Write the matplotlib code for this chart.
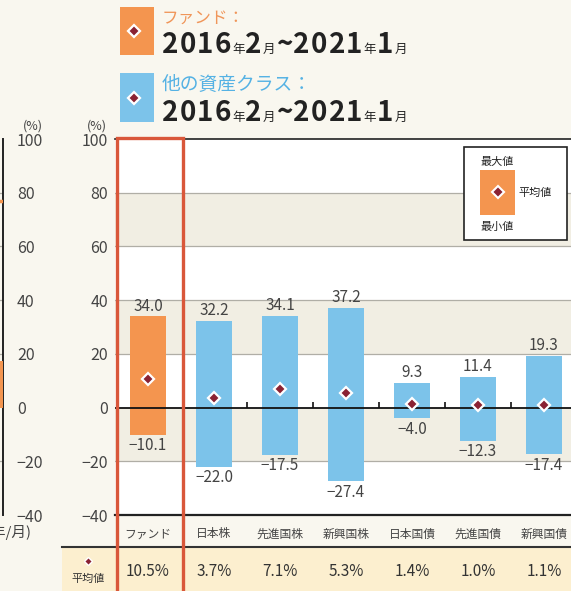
import matplotlib
matplotlib.use("Agg")
import matplotlib.pyplot as plt
from matplotlib.lines import Line2D
from matplotlib.patches import Rectangle
import matplotlib.transforms as mtransforms

plt.rcParams['font.family'] = ['Noto Sans CJK JP', 'DejaVu Sans']

# ---- data ----
categories = ['ファンド', '日本株', '先進国株', '新興国株', '日本国債', '先進国債', '新興国債']
max_vals = [34.0, 32.2, 34.1, 37.2, 9.3, 11.4, 19.3]
min_vals = [-10.1, -22.0, -17.5, -27.4, -4.0, -12.3, -17.4]
avg_vals = [10.5, 3.7, 7.1, 5.3, 1.4, 1.0, 1.1]
yticks = [100, 80, 60, 40, 20, 0, -20, -40]
period_label = ['2016', '年', '2', '月', '~', '2021', '年', '1', '月']
left_bar = [0.0, 17.5]
left_mark = 77.0

W, H = 571, 591
BG = '#f9f7ef'
ORANGE = '#f4954f'
BLUE = '#7cc3ea'
RED = '#d9573a'
MAROON = '#8a2233'
BAND = '#f1eee3'
TXT = '#444444'

fig = plt.figure(figsize=(W / 100, H / 100), dpi=100)
fig.patch.set_facecolor(BG)


def fx(x):
    return x / W


def fy(y):
    return 1 - y / H


# ---- main axes ----
ax_l, ax_r, ax_t, ax_b = 115, 643, 139, 515
ax = fig.add_axes([fx(ax_l), fy(ax_b), (ax_r - ax_l) / W, (ax_b - ax_t) / H])
ax.set_facecolor('white')
ax.set_xlim(-0.5, 7.5)
ax.set_ylim(-40, 100)
for lo in (60, 20, -20):
    ax.axhspan(lo, lo + 20, color=BAND, zorder=0, lw=0)
for g in (80, 60, 40, 20, -20):
    ax.axhline(g, color='#b0aea6', lw=0.9, zorder=1)
ax.axhline(0, color='#111111', lw=1.3, zorder=4)
ax.vlines([i + 0.5 for i in range(1, 7)], 0, 2.0, color='#111111', lw=1.2, zorder=4)

n = len(categories)
xs = list(range(n))
colors = [ORANGE] + [BLUE] * (n - 1)
heights = [mx - mn for mx, mn in zip(max_vals, min_vals)]
ax.bar(xs, heights, bottom=min_vals, width=0.54, color=colors, zorder=3)
ax.plot(xs, avg_vals, ls='none', marker='D', ms=6.2, mfc=MAROON, mec='white', mew=1.6, zorder=5)
for x, mx, mn in zip(xs, max_vals, min_vals):
    ax.text(x, mx + 0.6, f'{mx:.1f}', ha='center', va='bottom', fontsize=11, color=TXT, zorder=6)
    ax.text(x, mn - 0.9, f'{mn:.1f}'.replace('-', '−'), ha='center', va='top', fontsize=11, color=TXT, zorder=6)

ax.set_xticks([])
ax.set_yticks(yticks)
ax.set_yticklabels([str(v).replace('-', '−') for v in yticks], fontsize=11.5, color=TXT)
ax.tick_params(axis='y', length=0, pad=5)
ax.spines['left'].set_visible(False)
ax.spines['right'].set_visible(False)
ax.spines['top'].set_color('#222222')
ax.spines['top'].set_linewidth(1.2)
ax.spines['bottom'].set_color('#222222')
ax.spines['bottom'].set_linewidth(1.6)

# ---- left (cropped) axes ----
axL = fig.add_axes([fx(-57), fy(ax_b), 60 / W, (ax_b - ax_t) / H])
axL.set_facecolor(BG)
axL.set_xlim(0, 1)
axL.set_ylim(-40, 100)
for g in (80, 60, 40, 20, -20):
    axL.axhline(g, color='#b0aea6', lw=0.9, zorder=1)
axL.bar([0.85], [left_bar[1] - left_bar[0]], bottom=[left_bar[0]], width=0.3, color=ORANGE, zorder=3)
axL.plot([0.9, 1.0], [left_mark, left_mark], color=ORANGE, lw=2.5, zorder=3)
axL.set_xticks([])
axL.yaxis.tick_right()
axL.set_yticks(yticks)
axL.set_yticklabels([str(v).replace('-', '−') for v in yticks], fontsize=11.5, color=TXT)
axL.tick_params(axis='y', length=0, pad=10)
for s in ('left', 'top', 'bottom'):
    axL.spines[s].set_visible(False)
axL.spines['right'].set_color('#222222')
axL.spines['right'].set_linewidth(1.4)

fig.text(fx(32), fy(533), '(年/月)', ha='right', va='center', fontsize=10.5, color=TXT)
fig.text(fx(33), fy(126), '(%)', ha='center', va='center', fontsize=9, color=TXT)
fig.text(fx(97), fy(126), '(%)', ha='center', va='center', fontsize=9, color=TXT)

# ---- category labels and table ----
bt = mtransforms.blended_transform_factory(ax.transData, fig.transFigure)
for x, c in zip(xs, categories):
    fig.text(0, 0, c, transform=bt, ha='center', va='center', fontsize=8.5, color=TXT).set_position((x, fy(534)))

fig.patches.append(Rectangle((fx(62), 0), 1, fy(548), transform=fig.transFigure,
                             facecolor='#fcefcf', edgecolor='none', zorder=0))
fig.add_artist(Line2D([fx(62), 1], [fy(547), fy(547)], transform=fig.transFigure, color='#333333', lw=1.5))
for x, a in zip(xs, avg_vals):
    fig.text(0, 0, f'{a:.1f}%', transform=bt, ha='center', va='center', fontsize=11, color='#333333').set_position((x, fy(572)))
fig.add_artist(Line2D([fx(88)], [fy(561)], transform=fig.transFigure, ls='none', marker='D',
                      ms=4.5, mfc=MAROON, mec='white', mew=1))
fig.text(fx(88), fy(579), '平均値', ha='center', va='center', fontsize=8, color='#333333')

# ---- red outline around fund column ----
rl, rr, rt = 116.5, 182.5, 138
fig.add_artist(Line2D([fx(rl), fx(rl), fx(rr), fx(rr)], [fy(600), fy(rt), fy(rt), fy(600)],
                      transform=fig.transFigure, color=RED, lw=2.4, solid_joinstyle='miter', zorder=10))

# ---- legend box ----
fig.patches.append(Rectangle((fx(464), fy(240)), 103 / W, 93 / H, transform=fig.transFigure,
                             facecolor='white', edgecolor='#222222', lw=1.2, zorder=5))
fig.patches.append(Rectangle((fx(480), fy(215)), 35 / W, 45 / H, transform=fig.transFigure,
                             facecolor=ORANGE, edgecolor='none', zorder=6))
fig.add_artist(Line2D([fx(497.5)], [fy(192)], transform=fig.transFigure, ls='none', marker='D',
                      ms=6, mfc=MAROON, mec='white', mew=1.5, zorder=7))
fig.text(fx(497), fy(162), '最大値', ha='center', va='center', fontsize=8, color='#222222', zorder=8)
fig.text(fx(497), fy(227), '最小値', ha='center', va='center', fontsize=8, color='#222222', zorder=8)
fig.text(fx(518), fy(193), '平均値', ha='left', va='center', fontsize=8, color='#222222', zorder=8)

# ---- header ----
fig.patches.append(Rectangle((fx(120), fy(55)), 34 / W, 48 / H, transform=fig.transFigure,
                             facecolor=ORANGE, edgecolor='none'))
fig.patches.append(Rectangle((fx(120), fy(122)), 34 / W, 49 / H, transform=fig.transFigure,
                             facecolor=BLUE, edgecolor='none'))
for cy in (31, 98):
    fig.add_artist(Line2D([fx(134)], [fy(cy)], transform=fig.transFigure, ls='none', marker='D',
                          ms=6.5, mfc=MAROON, mec='white', mew=1.6))
fig.text(fx(162), fy(18), 'ファンド：', ha='left', va='center', fontsize=12, color='#f0965a')
fig.text(fx(162), fy(84), '他の資産クラス：', ha='left', va='center', fontsize=13.5, color='#55b2e4')

renderer = fig.canvas.get_renderer()


def draw_runs(x0, base_y):
    x = x0
    for piece in period_label:
        small = piece in ('年', '月')
        for ch in piece:
            t = fig.text(fx(x), fy(base_y), ch, ha='left', va='baseline',
                         fontsize=9 if small else 20, fontweight='normal' if small else 'bold',
                         color='#222222')
            bb = t.get_window_extent(renderer)
            x += bb.width + (0.5 if small else 1.2)


draw_runs(162, 53)
draw_runs(162, 121)

fig.savefig('out.png', dpi=100, facecolor=BG)
